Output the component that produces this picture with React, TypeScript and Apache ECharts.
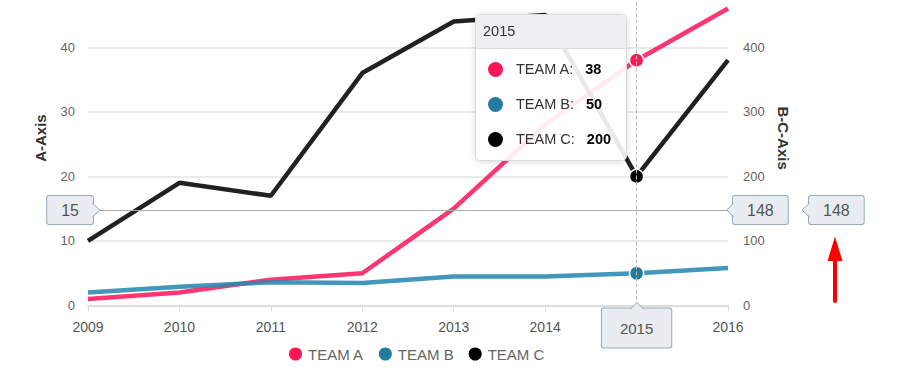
import React, { useEffect, useRef } from "react";
import * as echarts from "echarts";

const years = ["2009", "2010", "2011", "2012", "2013", "2014", "2015", "2016"];
const teamA = [1, 2, 4, 5, 15, 28, 38, 46];
const teamB = [20, 29, 36, 35, 45, 45, 50, 58];
const teamC = [100, 190, 170, 360, 440, 450, 200, 380];
const seriesNames = ["TEAM A", "TEAM B", "TEAM C"];
const seriesColors = ["#ff1654", "#247ba0", "#000000"];
const leftAxis = { name: "A-Axis", min: 0, max: 50, interval: 10 };
const rightAxis = { name: "B-C-Axis", min: 0, max: 500, interval: 100 };
const hoverYear = "2015";

const FONT = "'Liberation Sans', Arial, Helvetica, sans-serif";
const BOX_BG = "#e9edf1";
const BOX_BORDER = "#98a9b7";

export default function App() {
  const ref = useRef<HTMLDivElement>(null);

  useEffect(() => {
    if (!ref.current) return;
    const chart = echarts.init(ref.current, undefined, { renderer: "svg" });

    const ptrLabel = {
      show: true,
      precision: 0,
      backgroundColor: BOX_BG,
      borderColor: BOX_BORDER,
      borderWidth: 1,
      borderRadius: 2,
      color: "#555",
      fontSize: 16,
      fontFamily: FONT,
      padding: [6, 14],
      shadowBlur: 0,
    };

    const series = [teamA, teamB, teamC].map((d, i) => ({
      name: seriesNames[i],
      type: "line",
      yAxisIndex: i === 0 ? 0 : 1,
      data: d,
      showSymbol: false,
      symbol: "circle",
      symbolSize: 14,
      color: seriesColors[i],
      itemStyle: { color: seriesColors[i], borderColor: "#fff", borderWidth: 1.5 },
      lineStyle: { width: 4.5, color: seriesColors[i], opacity: 0.87 },
      emphasis: { scale: false, lineStyle: { width: 4.5 } },
    }));

    const tri = (pts: number[][], z = 60) => [
      { type: "polygon", z, shape: { points: pts }, style: { fill: BOX_BG } },
      { type: "polyline", z: z + 1, shape: { points: pts }, style: { stroke: BOX_BORDER, lineWidth: 1, fill: null } },
    ];

    chart.setOption({
      animation: false,
      textStyle: { fontFamily: FONT },
      color: seriesColors,
      grid: {
        left: 88,
        right: 171,
        top: -17.3,
        bottom: 68.5,
        containLabel: false,
        outerBoundsMode: "none",
      },
      legend: {
        data: seriesNames,
        icon: "circle",
        left: 287,
        top: 345.5,
        padding: 0,
        itemWidth: 15,
        itemHeight: 15,
        itemGap: 13,
        textStyle: { fontSize: 15, color: "#666", fontFamily: FONT },
      },
      tooltip: {
        trigger: "axis",
        triggerOn: "none",
        alwaysShowContent: true,
        position: [475, 14],
        padding: 0,
        backgroundColor: "rgba(255,255,255,0.9)",
        borderColor: "#dcdcdc",
        borderWidth: 1,
        borderRadius: 5,
        extraCssText: "box-shadow: 0 1px 6px rgba(0,0,0,0.15);",
        axisPointer: {
          type: "cross",
          crossStyle: { color: "#aaa", width: 1, type: "solid" },
          label: ptrLabel,
        },
        formatter: (params: any) => {
          const list = Array.isArray(params) ? params : [params];
          const head = `<div style="height:33px;line-height:33px;padding:0 7px;background:#ecf0f3;border-bottom:1px solid #ddd;border-radius:5px 5px 0 0;color:#333;font-size:14.5px;">${list[0].axisValue}</div>`;
          const rows = list
            .map(
              (p: any) =>
                `<div style="height:35px;display:flex;align-items:center;font-size:14.5px;"><span style="display:inline-block;width:15px;height:15px;border-radius:50%;background:${seriesColors[p.seriesIndex]};margin-right:13px;"></span><span style="color:#333;">${p.seriesName}:</span><span style="margin-left:12px;color:#000;font-weight:bold;">${p.value}</span></div>`
            )
            .join("");
          return `<div style="width:150px;font-family:${FONT};">${head}<div style="padding:3px 0 3px 12px;">${rows}</div></div>`;
        },
      },
      xAxis: {
        type: "category",
        data: years,
        boundaryGap: false,
        axisLine: { lineStyle: { color: "#dddddd", width: 2 } },
        axisTick: { show: true, length: 6, lineStyle: { color: "#dddddd", width: 1 } },
        axisLabel: { color: "#555", fontSize: 14, margin: 14, fontFamily: FONT },
        splitLine: { show: false },
        axisPointer: {
          lineStyle: { color: "#bbb", width: 1, type: "dashed" },
          label: { ...ptrLabel, fontSize: 15, padding: [12, 18], margin: 3 },
        },
      },
      yAxis: [
        {
          type: "value",
          position: "left",
          name: leftAxis.name,
          nameLocation: "middle",
          nameGap: 40,
          nameTextStyle: {
            fontSize: 15,
            fontWeight: "bold",
            color: "#333",
            fontFamily: FONT,
            padding: [0, 0, 0, 12],
          },
          min: leftAxis.min,
          max: leftAxis.max,
          interval: leftAxis.interval,
          axisLine: { show: false },
          axisTick: { show: false },
          axisLabel: { color: "#666", fontSize: 13, margin: 13, fontFamily: FONT, showMaxLabel: false },
          splitLine: { lineStyle: { color: "#e3e3e3", width: 1.5 } },
          axisPointer: {
            lineStyle: { color: "#aaa", width: 1, type: "solid" },
            label: { ...ptrLabel, margin: -5 },
          },
        },
        {
          type: "value",
          position: "right",
          name: rightAxis.name,
          nameLocation: "middle",
          nameGap: 48,
          nameRotate: -90,
          nameTextStyle: {
            fontSize: 15,
            fontWeight: "bold",
            color: "#333",
            fontFamily: FONT,
            padding: [0, 12, 0, 0],
          },
          min: rightAxis.min,
          max: rightAxis.max,
          interval: rightAxis.interval,
          axisLine: { show: false },
          axisTick: { show: false },
          axisLabel: { color: "#666", fontSize: 13, margin: 15, fontFamily: FONT, showMaxLabel: false },
          splitLine: { show: false },
          axisPointer: {
            lineStyle: { color: "#aaa", width: 1, type: "solid" },
            label: { ...ptrLabel, margin: 5 },
          },
        },
        {
          type: "value",
          position: "right",
          offset: 76,
          min: rightAxis.min,
          max: rightAxis.max,
          interval: rightAxis.interval,
          axisLine: { show: false },
          axisTick: { show: false },
          axisLabel: { show: false },
          splitLine: { show: false },
          axisPointer: {
            lineStyle: { color: "#aaa", width: 1, type: "solid" },
            label: { ...ptrLabel, margin: 5 },
          },
        },
      ],
      graphic: [
        ...tri([[92.5, 203], [100, 210], [92.5, 217]]),
        ...tri([[733.5, 203], [727, 210], [733.5, 217]]),
        ...tri([[809.5, 203], [802, 210], [809.5, 217]]),
        ...tri([[630, 309.5], [637, 302.5], [644, 309.5]]),
        {
          type: "line",
          z: 70,
          shape: { x1: 835, y1: 258, x2: 835, y2: 301 },
          style: { stroke: "#ff0000", lineWidth: 4, lineCap: "round" },
        },
        {
          type: "polygon",
          z: 70,
          shape: { points: [[827.5, 261], [835, 236.5], [842.5, 261]] },
          style: { fill: "#ff0000" },
        },
      ],
      series,
    });

    const idx = years.indexOf(hoverYear);
    const px = chart.convertToPixel({ xAxisIndex: 0 }, idx) as unknown as number;
    const py = chart.convertToPixel({ yAxisIndex: 1 }, 147.9) as unknown as number;
    chart.dispatchAction({ type: "showTip", x: px, y: py });

    return () => chart.dispose();
  }, []);

  return (
    <div
      ref={ref}
      style={{ position: "absolute", left: 0, top: 0, width: 899, height: 374 }}
    />
  );
}
